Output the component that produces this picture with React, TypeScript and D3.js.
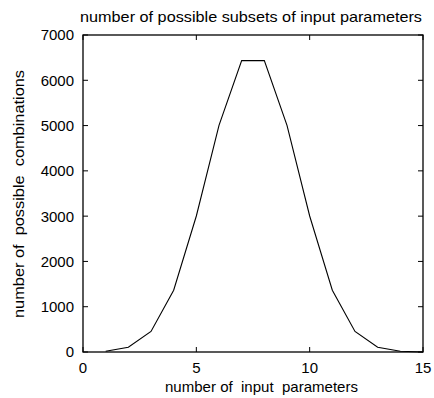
import React, { useEffect, useRef } from "react";
import * as d3 from "d3";

const inputCounts = [1, 2, 3, 4, 5, 6, 7, 8, 9, 10, 11, 12, 13, 14, 15];
const combinations = [15, 105, 455, 1365, 3003, 5005, 6435, 6435, 5005, 3003, 1365, 455, 105, 15, 1];
const xTicks = [0, 5, 10, 15];
const yTicks = [0, 1000, 2000, 3000, 4000, 5000, 6000, 7000];

const width = 434;
const height = 398;
const margin = { top: 35, right: 11, bottom: 46, left: 83 };

export default function App() {
  const svgRef = useRef<SVGSVGElement>(null);

  useEffect(() => {
    if (!svgRef.current) return;
    const svg = d3.select(svgRef.current);
    svg.selectAll("*").remove();

    const innerWidth = width - margin.left - margin.right;
    const innerHeight = height - margin.top - margin.bottom;

    const x = d3.scaleLinear().domain([0, 15]).range([0, innerWidth]);
    const y = d3.scaleLinear().domain([0, 7000]).range([innerHeight, 0]);

    const g = svg
      .append("g")
      .attr("transform", `translate(${margin.left},${margin.top})`);

    const font = "Liberation Sans, Arial, sans-serif";

    // box
    g.append("rect")
      .attr("x", 0)
      .attr("y", 0)
      .attr("width", innerWidth)
      .attr("height", innerHeight)
      .attr("fill", "none")
      .attr("stroke", "#000")
      .attr("stroke-width", 1.3);

    // inward ticks on all four sides
    const tl = 5;
    xTicks.forEach((t) => {
      g.append("line")
        .attr("x1", x(t)).attr("x2", x(t))
        .attr("y1", innerHeight).attr("y2", innerHeight - tl)
        .attr("stroke", "#000");
      g.append("line")
        .attr("x1", x(t)).attr("x2", x(t))
        .attr("y1", 0).attr("y2", tl)
        .attr("stroke", "#000");
      g.append("text")
        .attr("x", x(t))
        .attr("y", innerHeight + 21)
        .attr("text-anchor", "middle")
        .style("font-family", font)
        .style("font-size", "15px")
        .text(t);
    });

    yTicks.forEach((t) => {
      g.append("line")
        .attr("x1", 0).attr("x2", tl)
        .attr("y1", y(t)).attr("y2", y(t))
        .attr("stroke", "#000");
      g.append("line")
        .attr("x1", innerWidth).attr("x2", innerWidth - tl)
        .attr("y1", y(t)).attr("y2", y(t))
        .attr("stroke", "#000");
      g.append("text")
        .attr("x", -9)
        .attr("y", y(t))
        .attr("dy", "0.36em")
        .attr("text-anchor", "end")
        .style("font-family", font)
        .style("font-size", "15px")
        .text(t);
    });

    const line = d3
      .line<number>()
      .x((d, i) => x(inputCounts[i]))
      .y((d) => y(d));

    g.append("path")
      .datum(combinations)
      .attr("fill", "none")
      .attr("stroke", "#000")
      .attr("stroke-width", 1.1)
      .attr("d", line);

    // title
    svg.append("text")
      .attr("x", 251)
      .attr("y", 22)
      .attr("text-anchor", "middle")
      .attr("textLength", 342)
      .attr("lengthAdjust", "spacingAndGlyphs")
      .style("font-family", font)
      .style("font-size", "15px")
      .text("number of possible subsets of input parameters");

    // x label
    svg.append("text")
      .attr("x", 261.5)
      .attr("y", 392)
      .attr("text-anchor", "middle")
      .attr("textLength", 193)
      .attr("lengthAdjust", "spacingAndGlyphs")
      .style("font-family", font)
      .style("font-size", "15px")
      .style("white-space", "pre")
      .text("number of  input  parameters");

    // y label
    svg.append("text")
      .attr("transform", `translate(24,194) rotate(-90)`)
      .attr("text-anchor", "middle")
      .attr("textLength", 248)
      .attr("lengthAdjust", "spacingAndGlyphs")
      .style("font-family", font)
      .style("font-size", "15px")
      .style("white-space", "pre")
      .text("number of  possible  combinations");
  }, []);

  return (
    <svg
      ref={svgRef}
      width={width}
      height={height}
      style={{ display: "block", position: "absolute", left: 0, top: 0, background: "#fff" }}
    />
  );
}
